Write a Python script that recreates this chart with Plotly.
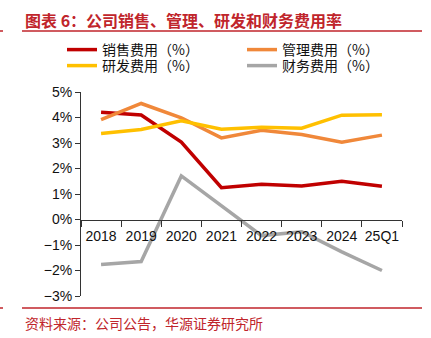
import plotly.graph_objects as go

# Expense ratios by period (% of revenue)
periods = ["2018", "2019", "2020", "2021", "2022", "2023", "2024", "25Q1"]
selling = [4.21, 4.10, 3.04, 1.25, 1.38, 1.31, 1.50, 1.30]
admin = [3.92, 4.55, 3.99, 3.20, 3.50, 3.33, 3.03, 3.31]
rnd = [3.37, 3.53, 3.87, 3.54, 3.62, 3.58, 4.09, 4.11]
finance = [-1.76, -1.65, 1.71, 0.53, -0.63, -0.48, -1.27, -2.00]

# (name, values, colour, legend row)
series = [
    ("销售费用（%）", selling, "#C00000", "legend"),
    ("管理费用（%）", admin, "#F0883A", "legend"),
    ("研发费用（%）", rnd, "#FFC000", "legend2"),
    ("财务费用（%）", finance, "#A6A6A6", "legend2"),
]

y_ticks = [-3, -2, -1, 0, 1, 2, 3, 4, 5]
y_min, y_max = -3, 5

W, H = 431, 338
L, R, T, B = 81, 29, 92, 42
PW, PH = W - L - R, H - T - B


def px_x(x):
    return (x - L) / PW


def px_y(y):
    return (H - B - y) / PH


fig = go.Figure()
for name, vals, color, leg in series:
    fig.add_trace(go.Scatter(
        x=periods, y=vals, name=name, mode="lines",
        line=dict(color=color, width=3.5), legend=leg,
    ))

axis_font = dict(family="Liberation Sans, Arial, sans-serif", size=14, color="#111111")
legend_font = dict(family="Noto Sans CJK SC", size=14, color="#111111")
red = "#C0252B"


def legend_row(yc):
    return dict(
        orientation="h", x=px_x(62), xanchor="left", y=px_y(yc), yanchor="middle",
        entrywidth=135, entrywidthmode="pixels", font=legend_font,
        bgcolor="rgba(0,0,0,0)",
    )


fig.update_layout(
    width=W, height=H,
    margin=dict(l=L, r=R, t=T, b=B),
    paper_bgcolor="white", plot_bgcolor="white",
    showlegend=True,
    legend=legend_row(50),
    legend2=legend_row(66),
    xaxis=dict(
        type="category", categoryorder="array", categoryarray=periods,
        range=[-0.5, len(periods) - 0.5],
        anchor="free", position=(0 - y_min) / (y_max - y_min),
        showline=True, linecolor="#333333", linewidth=1,
        ticks="outside", tickson="boundaries", ticklen=6, tickcolor="#333333",
        tickangle=0, ticklabelstandoff=4,
        showgrid=False, zeroline=False, tickfont=axis_font,
    ),
    yaxis=dict(
        range=[y_min, y_max], tickvals=y_ticks,
        ticktext=[f"{v}%".replace("-", "\u2212") for v in y_ticks],
        showline=True, linecolor="#333333", linewidth=1,
        ticks="outside", ticklen=5, tickcolor="#333333",
        showgrid=False, zeroline=False, tickfont=axis_font,
    ),
)

# Header and footer rules
for yy in (31, 308):
    for x0, x1 in ((22, 422), (0, 3)):
        fig.add_shape(type="line", xref="paper", yref="paper",
                      x0=px_x(x0), x1=px_x(x1), y0=px_y(yy), y1=px_y(yy),
                      line=dict(color=red, width=1.5))

fig.add_annotation(
    text="<b>图表 6：公司销售、管理、研发和财务费用率</b>",
    xref="paper", yref="paper", x=px_x(23), y=px_y(20),
    xanchor="left", yanchor="middle", showarrow=False,
    font=dict(family="Noto Sans CJK SC", size=16, color=red),
)
fig.add_annotation(
    text="资料来源：公司公告，华源证券研究所",
    xref="paper", yref="paper", x=px_x(23), y=px_y(323),
    xanchor="left", yanchor="middle", showarrow=False,
    font=dict(family="Noto Sans CJK SC", size=14, color=red),
)

fig.write_html("out.html")
